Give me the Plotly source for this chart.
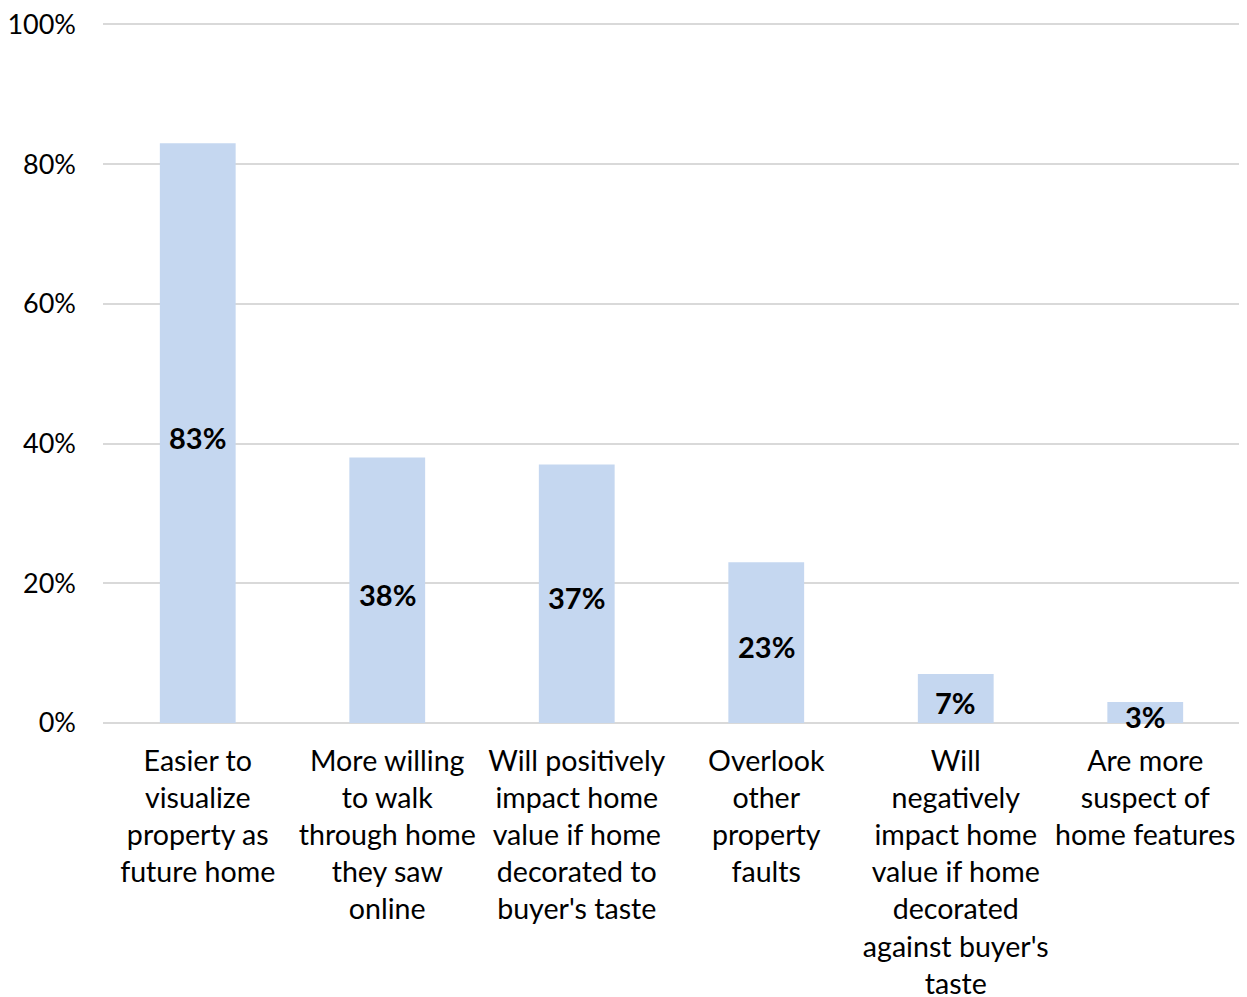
import plotly.graph_objects as go

categories = [
    "Easier to<br>visualize<br>property as<br>future home",
    "More willing<br>to walk<br>through home<br>they saw<br>online",
    "Will positively<br>impact home<br>value if home<br>decorated to<br>buyer's taste",
    "Overlook<br>other<br>property<br>faults",
    "Will<br>negatively<br>impact home<br>value if home<br>decorated<br>against buyer's<br>taste",
    "Are more<br>suspect of<br>home features",
]
values = [0.83, 0.38, 0.37, 0.23, 0.07, 0.03]
value_labels = ["83%", "38%", "37%", "23%", "7%", "3%"]
y_ticks = [0, 0.2, 0.4, 0.6, 0.8, 1.0]
y_tick_labels = ["0%", "20%", "40%", "60%", "80%", "100%"]

FONT = "Lato"

fig = go.Figure()
fig.add_trace(go.Bar(
    x=categories, y=values, width=0.4,
    marker=dict(color="#C5D7F0", line=dict(width=0)),
    hoverinfo="skip",
))

for cat, v, lab in zip(categories, values, value_labels):
    fig.add_annotation(
        x=cat, y=v / 2, text=f"<b>{lab}</b>", showarrow=False,
        yshift=-4, font=dict(family=FONT, size=29, color="black"),
    )

# page body has an 8px default margin; size the figure to fit the window
fig.update_layout(
    width=1239, height=989,
    margin=dict(l=95, r=7, t=15, b=274, autoexpand=False),
    paper_bgcolor="white", plot_bgcolor="white",
    showlegend=False,
    font=dict(family=FONT, size=27, color="black"),
    xaxis=dict(
        showgrid=False, showline=False, ticks="",
        tickfont=dict(family=FONT, size=28.6, color="black"),
        tickangle=0, automargin=False,
        ticklabelstandoff=18, ticklabeloverflow="allow",
    ),
    yaxis=dict(
        range=[0, 1.002], tickvals=y_ticks, ticktext=y_tick_labels,
        showgrid=True, gridcolor="#D9D9D9", gridwidth=2,
        zeroline=True, zerolinecolor="#D9D9D9", zerolinewidth=2,
        showline=False, ticks="", automargin=False,
        ticklabelstandoff=26, ticklabeloverflow="allow",
        tickfont=dict(family=FONT, size=27, color="black"),
    ),
)

fig.write_html("out.html")
